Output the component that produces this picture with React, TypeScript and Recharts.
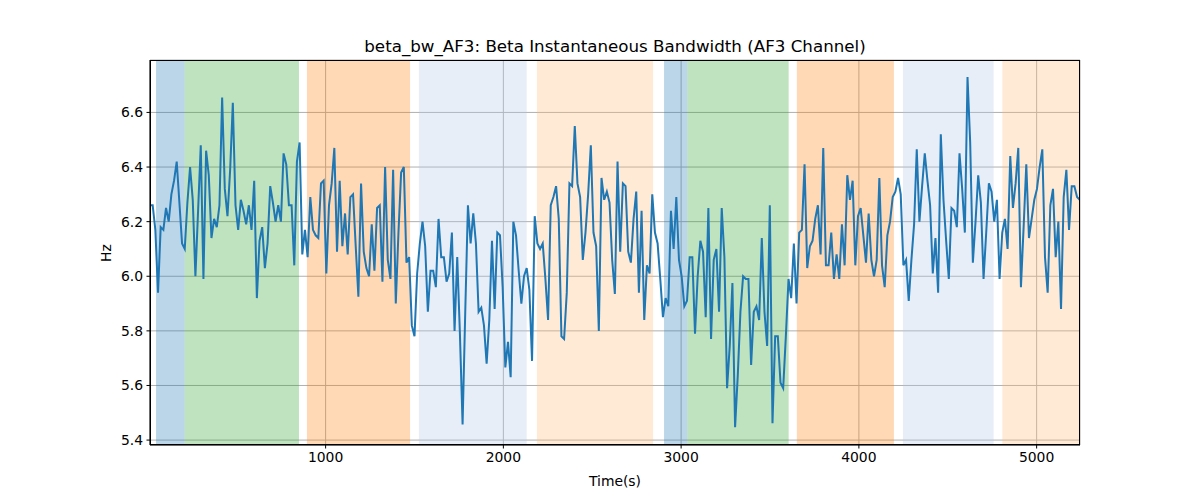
import React from "react";
import {
  LineChart,
  Line,
  XAxis,
  YAxis,
  CartesianGrid,
  ReferenceArea,
} from "recharts";

// Sampling grid of the signal (seconds)
const TIME_START = 12;
const TIME_STEP = 15.03;

// Beta instantaneous bandwidth (Hz), AF3 channel
const bandwidth = [
  6.26, 6.26, 6.17, 5.94, 6.18, 6.17, 6.25, 6.2, 6.3, 6.35, 6.42, 6.27, 6.12, 6.1, 6.27, 6.4, 6.28, 6.0, 6.24, 6.48,
  5.99, 6.46, 6.37, 6.14, 6.21, 6.18, 6.26, 6.655, 6.32, 6.22, 6.39, 6.635, 6.26, 6.17, 6.28, 6.24, 6.19, 6.26, 6.17, 6.35,
  5.92, 6.13,
  6.18, 6.03, 6.12, 6.33, 6.27, 6.2, 6.26, 6.2, 6.45, 6.41, 6.26, 6.26, 6.04, 6.42, 6.49, 6.08, 6.17, 6.07, 6.29, 6.17,
  6.15, 6.14, 6.34, 6.35, 6.01, 6.26, 6.34, 6.47, 6.09, 6.35, 6.11, 6.23, 6.08, 6.29, 6.3, 6.11, 5.925, 6.34, 6.09, 6.03,
  6.0, 6.19, 6.02,
  6.25, 6.26, 5.98, 6.4, 6.06, 5.99, 6.39, 5.9, 6.16, 6.38, 6.4, 6.05, 6.07, 5.82, 5.78, 6.01, 6.12, 6.2, 6.11, 5.87,
  6.02, 6.02, 5.96, 6.21, 6.07, 6.07, 5.98, 6.01, 6.16, 5.8, 6.07, 5.79, 5.457, 5.87, 6.26, 6.12, 6.23, 6.12, 5.87, 5.885,
  5.82, 5.68, 5.84,
  6.13, 5.88, 6.16, 6.15, 5.96, 5.666, 5.76, 5.63, 6.2, 6.15, 6.02, 5.9, 6.0, 6.03, 5.95, 5.69, 6.22, 6.12, 6.1, 6.12,
  5.99, 5.84, 6.26, 6.29, 6.33, 6.21, 5.78, 5.77, 5.94, 6.34, 6.33, 6.55, 6.34, 6.29, 6.06, 6.16, 6.3, 6.48, 6.16, 6.11,
  5.8, 6.36, 6.28,
  6.31, 6.27, 6.06, 5.935, 6.42, 6.09, 6.34, 6.33, 6.09, 6.05, 6.21, 6.31, 5.94, 6.24, 5.84, 6.04, 6.01, 6.3, 6.16, 6.12,
  5.99, 5.85, 5.92, 5.89, 6.24, 6.1, 6.29, 6.06, 6.0, 5.89, 5.91, 6.07, 6.07, 5.79, 6.0, 6.13, 6.09, 5.85, 6.25, 5.77,
  6.06, 6.1, 5.87,
  6.25, 6.07, 5.59, 5.745, 5.975, 5.447, 5.636, 5.87, 6.0, 5.99, 5.99, 5.675, 5.87, 5.89, 5.84, 6.14, 5.87, 5.745, 6.26, 5.462,
  5.78, 5.78, 5.61, 5.59, 5.78, 5.99, 5.92, 6.12, 5.9, 6.16, 6.17, 6.41, 6.03, 6.11, 6.13, 6.21, 6.26, 6.08, 6.47, 6.04,
  6.04, 6.16, 5.99,
  6.08, 5.99, 6.19, 6.04, 6.37, 6.28, 6.35, 6.04, 6.22, 6.25, 6.15, 6.05, 6.23, 6.06, 6.0, 6.06, 6.36, 6.04, 5.96, 6.15,
  6.2, 6.29, 6.31, 6.36, 6.3, 6.04, 6.06, 5.91, 6.06, 6.19, 6.465, 6.2, 6.33, 6.45, 6.35, 6.26, 6.01, 6.14, 5.94, 6.52,
  6.28, 6.13, 5.99,
  6.25, 6.24, 6.18, 6.45, 6.32, 6.16, 6.73, 6.49, 6.05, 6.2, 6.37, 6.27, 5.99, 6.16, 6.34, 6.31, 6.2, 6.28, 5.99, 6.16,
  6.21, 6.1, 6.44, 6.25, 6.34, 6.47, 5.96, 6.18, 6.41, 6.14, 6.21, 6.28, 6.32, 6.4, 6.465, 6.07, 5.94, 6.26, 6.32, 6.07,
  6.2, 5.88, 6.29, 6.39, 6.17, 6.33, 6.33, 6.29, 6.28,
];

// Shaded segments (seconds)
const spanStarts = [46, 207, 895, 1525, 2189, 2904, 3035, 3651, 4248, 4807];
const spanEnds = [207, 850, 1475, 2131, 2842, 3035, 3605, 4197, 4758, 5244];
const spanColors = [
  "#1f77b4", "#2ca02c", "#ff7f0e", "#aec7e8", "#ffbb78",
  "#1f77b4", "#2ca02c", "#ff7f0e", "#aec7e8", "#ffbb78",
];

const xTicks = [1000, 2000, 3000, 4000, 5000];
const yTicks = [5.4, 5.6, 5.8, 6.0, 6.2, 6.4, 6.6];
const xDomain = [12, 5244];
const yDomain = [5.382, 6.792];

const chartData = bandwidth.map((v, i) => ({ t: TIME_START + i * TIME_STEP, bw: v }));

const FONT = "'DejaVu Sans', sans-serif";
const tickStyle = { fill: "#000", fontSize: 13.9, fontFamily: FONT };

export default function App() {
  return (
    <div style={{ position: "relative", width: 1200, height: 500, fontFamily: FONT }}>
      <style>{"body{margin:0}"}</style>
      <LineChart
        width={1200}
        height={500}
        data={chartData}
        margin={{ top: 60, right: 120, bottom: 0, left: 0 }}
      >
        {spanStarts.map((s, i) => (
          <ReferenceArea
            key={i}
            x1={s}
            x2={spanEnds[i]}
            fill={spanColors[i]}
            fillOpacity={0.3}
            stroke="none"
            ifOverflow="hidden"
          />
        ))}
        <CartesianGrid stroke="#b0b0b0" strokeWidth={1} vertical horizontal />
        <XAxis
          dataKey="t"
          type="number"
          domain={xDomain}
          ticks={xTicks}
          allowDataOverflow
          height={55}
          tickSize={3.5}
          tickMargin={3.5}
          tick={tickStyle}
          tickLine={{ stroke: "#000" }}
          axisLine={{ stroke: "#000" }}
        />
        <YAxis
          type="number"
          domain={yDomain}
          ticks={yTicks}
          allowDataOverflow
          width={150}
          tickSize={3.5}
          tickMargin={3.5}
          tick={tickStyle}
          tickFormatter={(v: number) => v.toFixed(1)}
          tickLine={{ stroke: "#000" }}
          axisLine={{ stroke: "#000" }}
        />
        <Line
          type="linear"
          dataKey="bw"
          stroke="#1f77b4"
          strokeWidth={2}
          dot={false}
          activeDot={false}
          isAnimationActive={false}
        />
      </LineChart>
      <div
        style={{
          position: "absolute",
          left: 150,
          top: 60,
          width: 930,
          height: 385,
          boxSizing: "border-box",
          border: "1px solid #000",
          pointerEvents: "none",
        }}
      />
      <div
        style={{
          position: "absolute",
          left: 615,
          top: 46,
          transform: "translate(-50%, -50%)",
          fontSize: 16.7,
          whiteSpace: "nowrap",
          color: "#000",
        }}
      >
        beta_bw_AF3: Beta Instantaneous Bandwidth (AF3 Channel)
      </div>
      <div
        style={{
          position: "absolute",
          left: 615,
          top: 481,
          transform: "translate(-50%, -50%)",
          fontSize: 13.9,
          whiteSpace: "nowrap",
          color: "#000",
        }}
      >
        Time(s)
      </div>
      <div
        style={{
          position: "absolute",
          left: 106,
          top: 253,
          transform: "translate(-50%, -50%) rotate(-90deg)",
          fontSize: 13.9,
          whiteSpace: "nowrap",
          color: "#000",
        }}
      >
        Hz
      </div>
    </div>
  );
}
